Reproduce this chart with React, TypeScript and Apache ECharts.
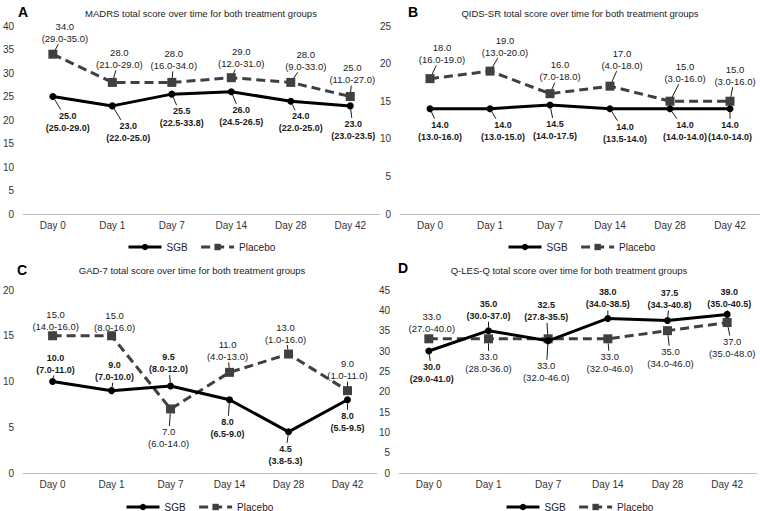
import { useEffect, useRef } from 'react';
import * as echarts from 'echarts';

const days = ['Day 0', 'Day 1', 'Day 7', 'Day 14', 'Day 28', 'Day 42'];

// A: MADRS
const madrsSgb = [25.0, 23.0, 25.5, 26.0, 24.0, 23.0];
const madrsSgbLow = [25.0, 22.0, 22.5, 24.5, 22.0, 23.0];
const madrsSgbHigh = [29.0, 25.0, 33.8, 26.5, 25.0, 23.5];
const madrsPlacebo = [34.0, 28.0, 28.0, 29.0, 28.0, 25.0];
const madrsPlaceboLow = [29.0, 21.0, 16.0, 12.0, 9.0, 11.0];
const madrsPlaceboHigh = [35.0, 29.0, 34.0, 31.0, 33.0, 27.0];

// B: QIDS-SR
const qidsSgb = [14.0, 14.0, 14.5, 14.0, 14.0, 14.0];
const qidsSgbLow = [13.0, 13.0, 14.0, 13.5, 14.0, 14.0];
const qidsSgbHigh = [16.0, 15.0, 17.5, 14.0, 14.0, 14.0];
const qidsPlacebo = [18.0, 19.0, 16.0, 17.0, 15.0, 15.0];
const qidsPlaceboLow = [16.0, 13.0, 7.0, 4.0, 3.0, 3.0];
const qidsPlaceboHigh = [19.0, 20.0, 18.0, 18.0, 16.0, 16.0];

// C: GAD-7
const gadSgb = [10.0, 9.0, 9.5, 8.0, 4.5, 8.0];
const gadSgbLow = [7.0, 7.0, 8.0, 6.5, 3.8, 5.5];
const gadSgbHigh = [11.0, 10.0, 12.0, 9.0, 5.3, 9.5];
const gadPlacebo = [15.0, 15.0, 7.0, 11.0, 13.0, 9.0];
const gadPlaceboLow = [14.0, 8.0, 6.0, 4.0, 1.0, 1.0];
const gadPlaceboHigh = [16.0, 16.0, 14.0, 13.0, 16.0, 11.0];

// D: Q-LES-Q
const qlesSgb = [30.0, 35.0, 32.5, 38.0, 37.5, 39.0];
const qlesSgbLow = [29.0, 30.0, 27.8, 34.0, 34.3, 35.0];
const qlesSgbHigh = [41.0, 37.0, 35.5, 38.5, 40.8, 40.5];
const qlesPlacebo = [33.0, 33.0, 33.0, 33.0, 35.0, 37.0];
const qlesPlaceboLow = [27.0, 28.0, 32.0, 32.0, 34.0, 35.0];
const qlesPlaceboHigh = [40.0, 36.0, 46.0, 46.0, 46.0, 48.0];

const panelTitles = [
  'MADRS total score over time for both treatment groups',
  'QIDS-SR total score over time for both treatment groups',
  'GAD-7 total score over time for both treatment groups',
  'Q-LES-Q total score over time for both treatment groups',
];
const panelLetters = ['A', 'B', 'C', 'D'];
const yMax = [40, 25, 20, 45];
const yInterval = 5;

const FONT = '"Liberation Sans", Arial, Helvetica, sans-serif';

// layout (pixels)
const grids = [
  { left: 20, top: 26, width: 360, height: 188 },
  { left: 400, top: 26, width: 360, height: 188 },
  { left: 20, top: 290, width: 357, height: 183 },
  { left: 399, top: 290, width: 358, height: 183 },
];
const titlePos = [[201, 13], [580, 13], [192, 270], [569, 270]];
const letterPos = [[23, 12], [413, 12], [22, 270], [403, 268]];
const legendPos = [[127, 242], [507, 242], [125, 502], [505, 502]];

// label offsets (dx, dy) from point to label centre
const offSgb = [
  [[15, 25], [16, 26], [10, 23], [10, 24], [10, 21], [3, 24]],
  [[10, 22], [13, 22], [5, 25], [15, 24], [15, 22], [0, 22]],
  [[3, -18], [3, -20], [-2, -23], [-2, 28], [-3, 23], [0, 22]],
  [[3, 22], [0, -21], [-2, -30], [0, -20], [2, -22], [2, -16]],
];
const offPlacebo = [
  [[12, -22], [7, -24], [2, -23], [10, -20], [15, -22], [2, -23]],
  [[12, -25], [15, -25], [10, -23], [12, -27], [15, -29], [5, -26]],
  [[3, -15], [3, -14], [-2, 29], [-2, -22], [-3, -21], [0, -21]],
  [[3, -16], [0, 24], [-2, 33], [2, 24], [3, 27], [5, 25]],
];

const sgbData = [
  [madrsSgb, madrsSgbLow, madrsSgbHigh],
  [qidsSgb, qidsSgbLow, qidsSgbHigh],
  [gadSgb, gadSgbLow, gadSgbHigh],
  [qlesSgb, qlesSgbLow, qlesSgbHigh],
];
const placeboData = [
  [madrsPlacebo, madrsPlaceboLow, madrsPlaceboHigh],
  [qidsPlacebo, qidsPlaceboLow, qidsPlaceboHigh],
  [gadPlacebo, gadPlaceboLow, gadPlaceboHigh],
  [qlesPlacebo, qlesPlaceboLow, qlesPlaceboHigh],
];

const fmt = (v: number) => v.toFixed(1);
const labelLines = (vals: number[][], i: number) => [
  fmt(vals[0][i]),
  `(${fmt(vals[1][i])}-${fmt(vals[2][i])})`,
];

function estWidth(text: string, size: number) {
  let em = 0;
  for (const ch of text) {
    if (ch >= '0' && ch <= '9') em += 0.556;
    else if (ch === '.') em += 0.278;
    else em += 0.333;
  }
  return em * size;
}

// guide line from marker edge to label box edge
function guide(px: number, py: number, off: number[], lines: string[], size: number, r: number) {
  const cx = px + off[0];
  const cy = py + off[1];
  const w = Math.max(estWidth(lines[0], size), estWidth(lines[1], size));
  const hw = w / 2 + 1;
  const hh = 12;
  const vx = px - cx;
  const vy = py - cy;
  const tx = Math.abs(vx) > 0.01 ? hw / Math.abs(vx) : 99;
  const ty = Math.abs(vy) > 0.01 ? hh / Math.abs(vy) : 99;
  const t = Math.min(tx, ty);
  const len = Math.sqrt(vx * vx + vy * vy) || 1;
  return {
    show: t < 1,
    x1: px - (vx / len) * r,
    y1: py - (vy / len) * r,
    x2: cx + vx * t,
    y2: cy + vy * t,
  };
}

function makeLineSeries(name: string, idx: number, vals: number[][], isSgb: boolean) {
  const color = isSgb ? '#000000' : '#404040';
  return {
    type: 'line',
    name,
    xAxisIndex: idx,
    yAxisIndex: idx,
    data: vals[0],
    symbol: isSgb ? 'circle' : 'rect',
    symbolSize: isSgb ? 7 : 9,
    lineStyle: { color, width: 3, type: isSgb ? 'solid' : [9, 5] },
    itemStyle: { color },
    z: isSgb ? 4 : 3,
    label: { show: false },
  };
}

function makeLabelSeries(idx: number, vals: number[][], offsets: number[][], isSgb: boolean) {
  const size = isSgb ? 9 : 9.5;
  return {
    type: 'custom',
    name: isSgb ? 'SGB labels' : 'Placebo labels',
    xAxisIndex: idx,
    yAxisIndex: idx,
    data: vals[0].map((v, i) => [i, v]),
    z: 5,
    silent: true,
    clip: false,
    renderItem: (params: any, api: any) => {
      const i = params.dataIndex;
      const pt = api.coord([api.value(0), api.value(1)]);
      const lines = labelLines(vals, i);
      return {
        type: 'text',
        x: pt[0] + offsets[i][0],
        y: pt[1] + offsets[i][1],
        style: {
          text: lines.join('\n'),
          fontSize: size,
          fontWeight: isSgb ? 'bold' : 'normal',
          fontFamily: FONT,
          fill: '#1a1a1a',
          align: 'center',
          verticalAlign: 'middle',
          lineHeight: 12,
        },
      };
    },
  };
}

export default function App() {
  const ref = useRef<HTMLDivElement>(null);
  useEffect(() => {
    if (!ref.current) return;
    const chart = echarts.init(ref.current, undefined, { renderer: 'svg' });
    const series: any[] = [];
    for (let i = 0; i < 4; i++) {
      series.push(makeLineSeries('Placebo', i, placeboData[i], false));
      series.push(makeLineSeries('SGB', i, sgbData[i], true));
      series.push(makeLabelSeries(i, placeboData[i], offPlacebo[i], false));
      series.push(makeLabelSeries(i, sgbData[i], offSgb[i], true));
    }
    chart.setOption({
      animation: false,
      backgroundColor: '#ffffff',
      grid: grids.map((g) => ({ ...g, containLabel: false })),
      xAxis: grids.map((_, i) => ({
        type: 'category',
        gridIndex: i,
        data: days,
        boundaryGap: true,
        axisLine: { show: true, lineStyle: { color: '#bfbfbf', width: 1 } },
        axisTick: { show: false },
        axisLabel: { fontSize: 10, color: '#333333', fontFamily: FONT, margin: 6 },
        splitLine: { show: false },
      })),
      yAxis: grids.map((_, i) => ({
        type: 'value',
        gridIndex: i,
        min: 0,
        max: yMax[i],
        interval: yInterval,
        axisLine: { show: false },
        axisTick: { show: false },
        splitLine: { show: false },
        axisLabel: { fontSize: 10, color: '#333333', fontFamily: FONT, margin: 9 },
      })),
      legend: legendPos.map((p) => ({
        data: ['SGB', 'Placebo'],
        left: p[0],
        top: p[1],
        orient: 'horizontal',
        padding: 0,
        itemWidth: 33,
        itemHeight: 8,
        itemGap: 12,
        selectedMode: false,
        lineStyle: { width: 3 },
        textStyle: { fontSize: 10, color: '#222222', fontFamily: FONT },
      })),
      series,
    });

    const graphic: any[] = [];
    for (let i = 0; i < 4; i++) {
      graphic.push({
        type: 'text',
        x: titlePos[i][0],
        y: titlePos[i][1],
        style: {
          text: panelTitles[i],
          fontSize: 9.5,
          fontFamily: FONT,
          fill: '#222222',
          align: 'center',
          verticalAlign: 'middle',
        },
      });
      graphic.push({
        type: 'text',
        x: letterPos[i][0],
        y: letterPos[i][1],
        style: {
          text: panelLetters[i],
          fontSize: 14,
          fontWeight: 'bold',
          fontFamily: FONT,
          fill: '#000000',
          align: 'center',
          verticalAlign: 'middle',
        },
      });
      const groups: [number[][], number[][], boolean][] = [
        [placeboData[i], offPlacebo[i], false],
        [sgbData[i], offSgb[i], true],
      ];
      for (const [vals, offs, isSgb] of groups) {
        for (let k = 0; k < vals[0].length; k++) {
          const p = chart.convertToPixel({ gridIndex: i } as any, [k, vals[0][k]]) as any;
          if (!p) continue;
          const g = guide(p[0], p[1], offs[k], labelLines(vals, k), isSgb ? 9 : 9.5, isSgb ? 3.5 : 4.5);
          if (!g.show) continue;
          graphic.push({
            type: 'line',
            z: 1,
            silent: true,
            shape: { x1: g.x1, y1: g.y1, x2: g.x2, y2: g.y2 },
            style: { stroke: '#1a1a1a', lineWidth: 1 },
          });
        }
      }
    }
    chart.setOption({ graphic });
    return () => chart.dispose();
  }, []);
  return (
    <div
      ref={ref}
      style={{ position: 'fixed', left: 0, top: 0, width: 760, height: 511 }}
    />
  );
}
